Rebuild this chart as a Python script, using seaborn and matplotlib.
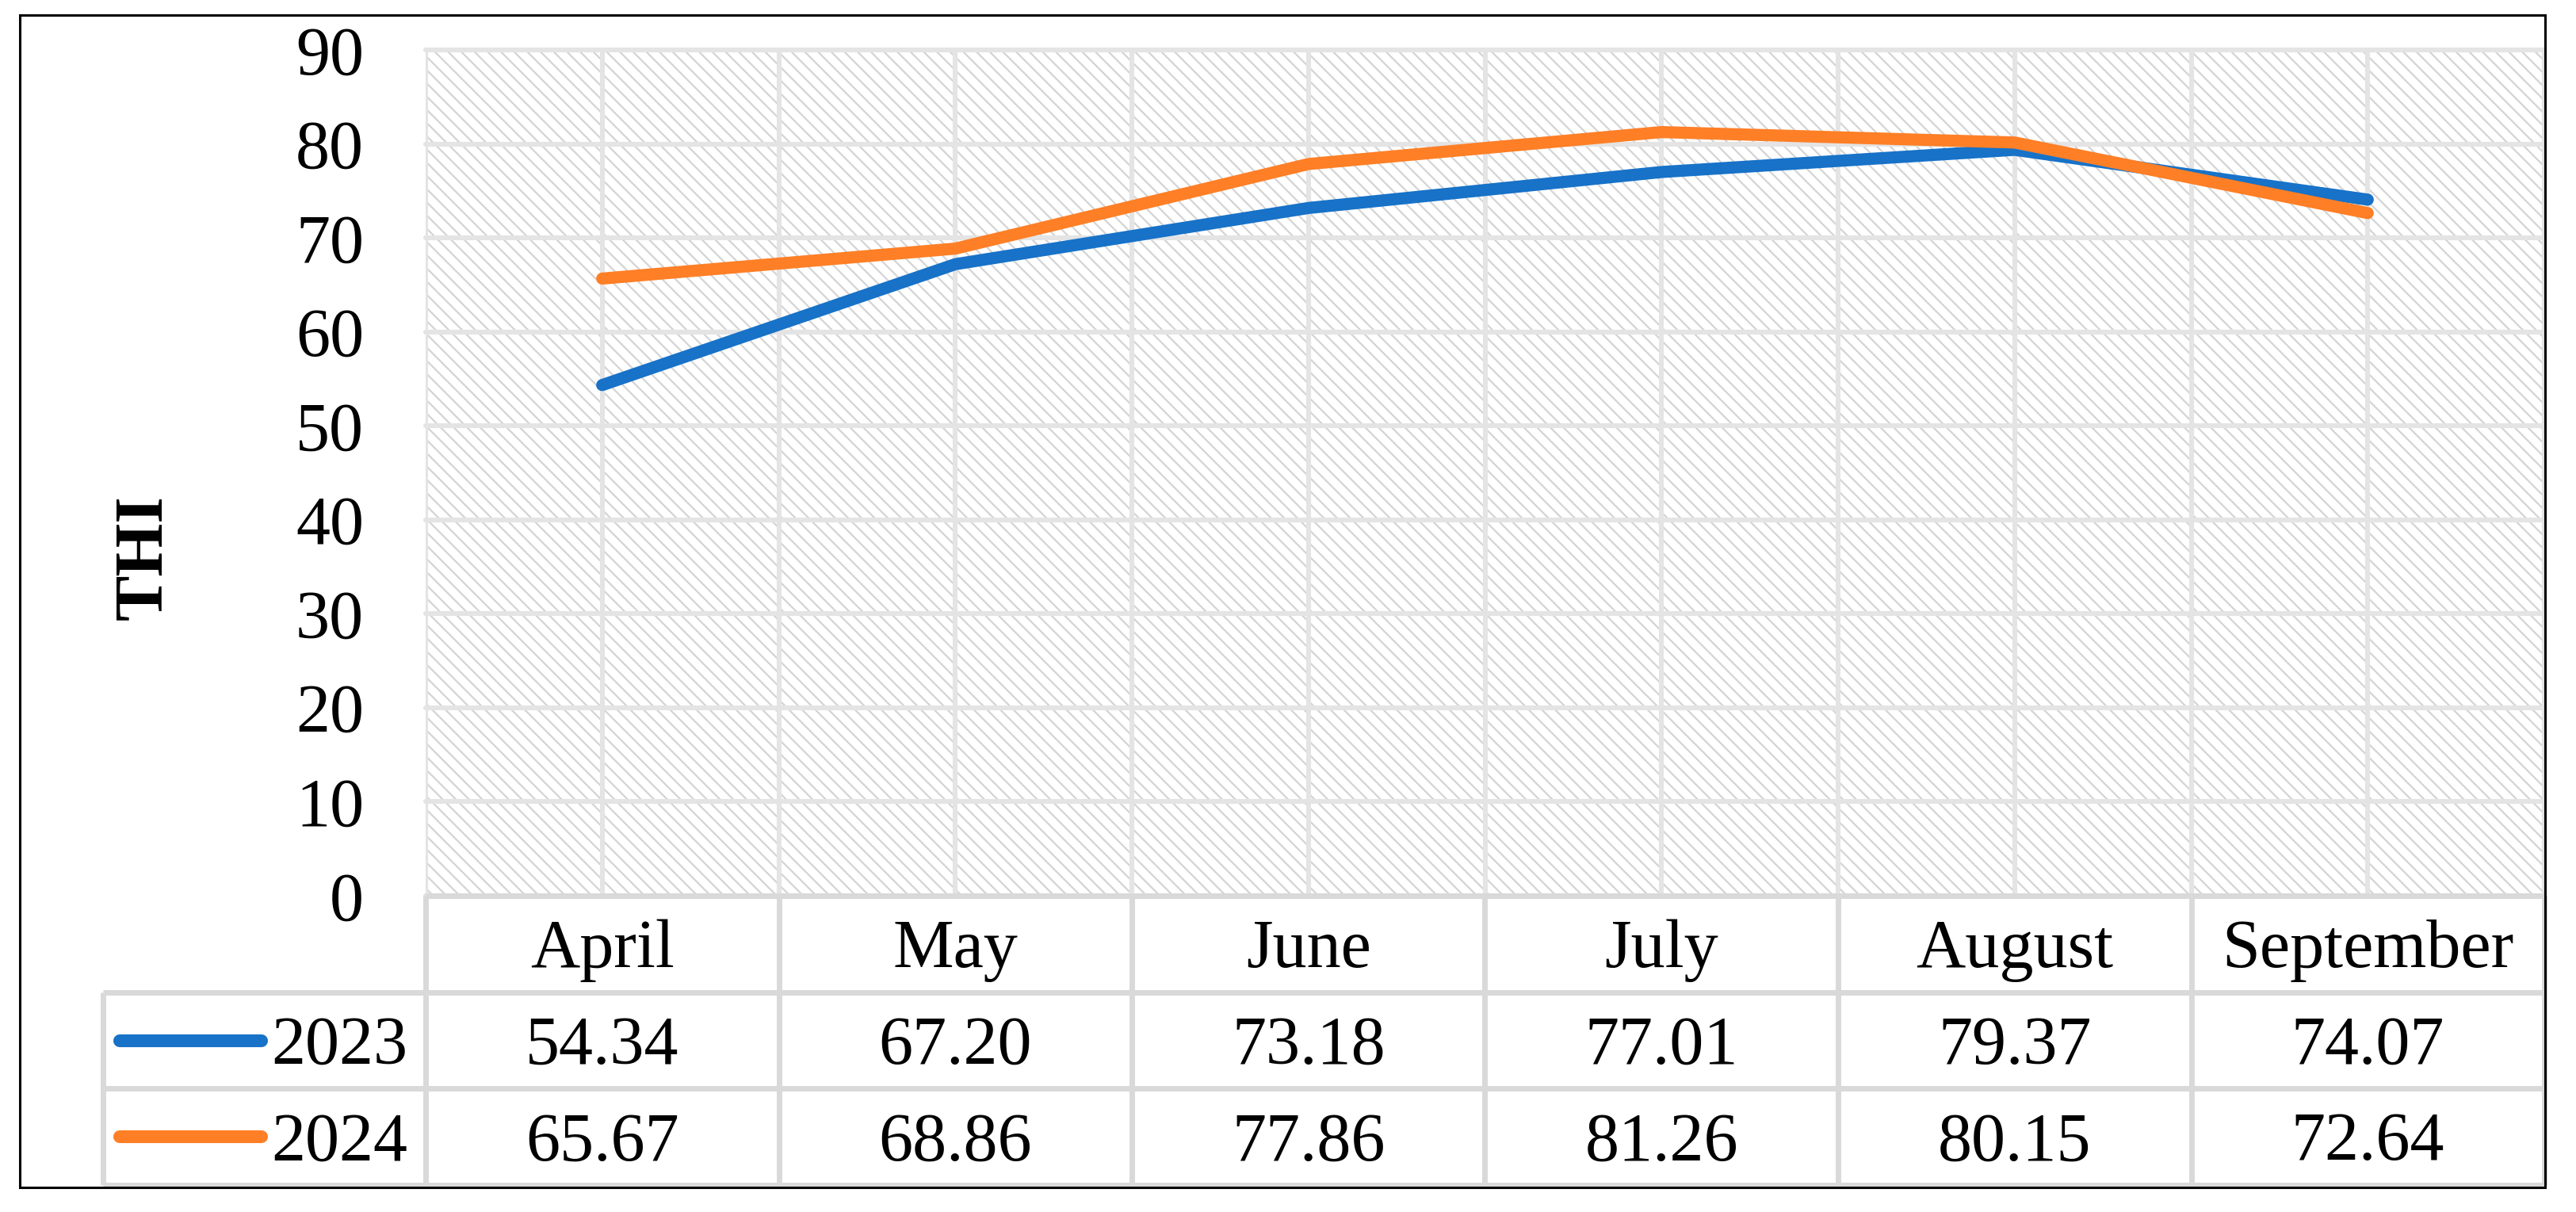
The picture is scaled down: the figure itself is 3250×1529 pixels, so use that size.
import numpy as np
import pandas as pd
import matplotlib
matplotlib.use("Agg")
import matplotlib.pyplot as plt
from matplotlib.patches import Rectangle
import seaborn as sns

# data
months = ["April", "May", "June", "July", "August", "September"]
years = ["2023", "2024"]
thi_2023 = [54.34, 67.20, 73.18, 77.01, 79.37, 74.07]
thi_2024 = [65.67, 68.86, 77.86, 81.26, 80.15, 72.64]
y_ticks = list(range(0, 91, 10))

colors = ["#1772C8", "#FE7F26"]

W, H, DPI = 3250, 1529, 200


def fx(px):
    return px / W


def fy(py):
    return 1 - py / H


def main():
    sns.set_theme(style="white")
    plt.rcParams["font.family"] = ["Liberation Serif", "DejaVu Serif"]
    plt.rcParams["hatch.linewidth"] = 0.8
    plt.rcParams["text.color"] = "black"
    plt.rcParams["ytick.color"] = "black"
    plt.rcParams["ytick.labelcolor"] = "black"

    df = pd.DataFrame({
        "pos": list(range(len(months))) * 2,
        "THI": thi_2023 + thi_2024,
        "year": [years[0]] * len(months) + [years[1]] * len(months),
    })

    fig = plt.figure(figsize=(W / DPI, H / DPI), dpi=DPI)
    fig.patch.set_facecolor("white")

    # plot area in pixel coords of the reference
    left, right, top, bottom = 537, 3210, 63, 1130
    ax = fig.add_axes([fx(left), fy(bottom), fx(right - left), (bottom - top) / H])
    ax.set_facecolor("white")
    ax.add_patch(Rectangle((0, 0), 1, 1, transform=ax.transAxes, facecolor="white",
                           edgecolor="#d4d4d4", linewidth=0, hatch="\\\\\\\\", zorder=0.1))

    sns.lineplot(data=df, x="pos", y="THI", hue="year", palette=colors,
                 linewidth=5.5, errorbar=None, legend=False, ax=ax,
                 solid_capstyle="round", zorder=3)

    ax.set_xlim(-0.5, len(months) - 0.5)
    ax.set_ylim(0, 90)
    ax.set_xticks(range(len(months)))
    ax.set_xticks(np.arange(-0.5, len(months), 1.0), minor=True)
    ax.set_xticklabels([])
    ax.set_yticks(y_ticks)
    ax.set_yticklabels([str(v) for v in y_ticks])
    ax.tick_params(axis="y", length=0, pad=28, labelsize=31, labelcolor="black")
    ax.tick_params(axis="x", which="both", length=0)
    ax.set_axisbelow(True)
    ax.grid(True, which="both", axis="x", color="#e4e4e4", linewidth=2.2)
    ax.grid(True, which="major", axis="y", color="#e4e4e4", linewidth=2.2)
    for g in ax.get_xgridlines() + ax.get_ygridlines():
        g.set_clip_on(False)
    ax.set_xlabel("")
    ax.set_ylabel("")
    for s in ax.spines.values():
        s.set_visible(False)

    fig.text(fx(183), fy(703), "THI", rotation=90, fontsize=31, fontweight="bold",
             ha="center", va="center", color="black")

    # data table under the plot
    t_left, t_bottom = 130, 1495
    xl = -0.5 + (t_left - left) / ((right - left) / len(months))
    tax = fig.add_axes([fx(t_left), fy(t_bottom), fx(right - t_left), (t_bottom - bottom) / H])
    tax.set_xlim(xl, len(months) - 0.5)
    tax.set_ylim(0, 3)
    tax.axis("off")

    grid_kw = dict(color="#d9d9d9", linewidth=2.5, clip_on=False, zorder=1)
    tax.hlines([0, 1, 2], xl, len(months) - 0.5, **grid_kw)
    tax.hlines(3, -0.5, len(months) - 0.5, **grid_kw)
    tax.vlines(np.arange(-0.5, len(months), 1.0), 0, 3, **grid_kw)
    tax.vlines(xl, 0, 2, **grid_kw)

    base = -0.24  # baseline offset so caps sit centred in a row
    for i, m in enumerate(months):
        tax.text(i, 2.5 + base, m, fontsize=31, ha="center", va="baseline", color="black")

    unit = (right - left) / len(months)
    key_x0 = -0.5 + (151 - left) / unit
    key_x1 = -0.5 + (330 - left) / unit
    lab_x = -0.5 + (342 - left) / unit
    for r, (yr, vals, c) in enumerate(zip(years, [thi_2023, thi_2024], colors)):
        yc = 1.5 - r
        tax.plot([key_x0, key_x1], [yc, yc], color=c, linewidth=5.8,
                 solid_capstyle="round", clip_on=False)
        tax.text(lab_x, yc + base, yr, fontsize=31, ha="left", va="baseline", color="black")
        for i, v in enumerate(vals):
            tax.text(i, yc + base, f"{v:.2f}", fontsize=31, ha="center", va="baseline",
                     color="black")

    # outer frame
    fig.add_artist(Rectangle((fx(25), fy(1498)), fx(3211 - 25), (1498 - 19) / H,
                             transform=fig.transFigure, fill=False,
                             edgecolor="black", linewidth=1.1))

    fig.savefig("out.png", dpi=DPI, facecolor="white")


if __name__ == "__main__":
    main()
